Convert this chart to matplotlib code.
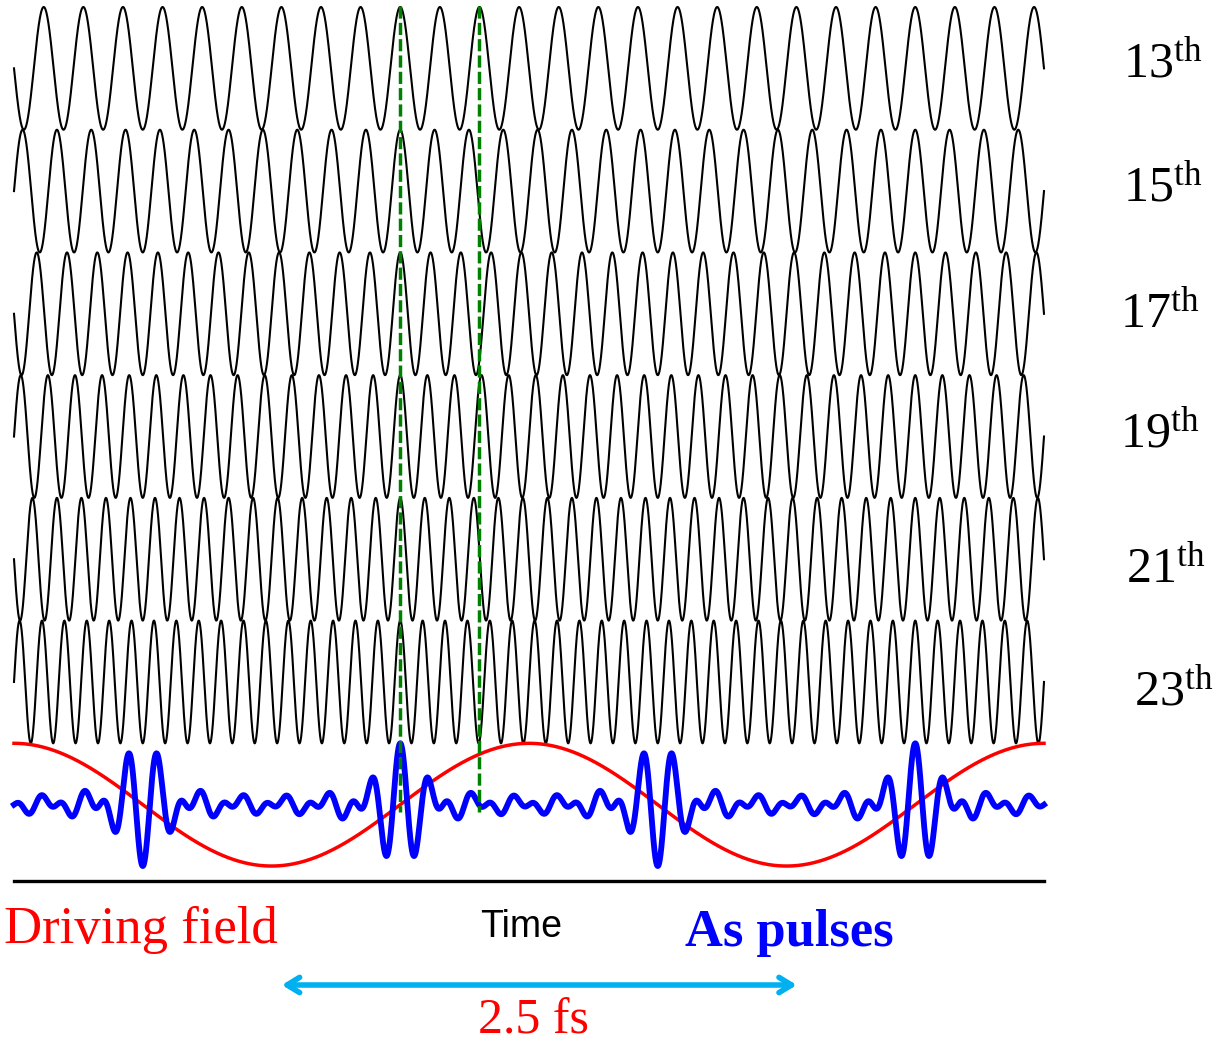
import numpy as np
import matplotlib
matplotlib.use('Agg')
import matplotlib.pyplot as plt

plt.rcParams['mathtext.fontset'] = 'custom'
plt.rcParams['mathtext.rm'] = 'Liberation Serif'

# ---- data ----
harmonic_orders = [13, 15, 17, 19, 21, 23]
harmonic_labels = ['13', '15', '17', '19', '21', '23']
driving_cycles = 2.0          # driving-field periods shown
pulse_time = 0.75             # time of in-phase harmonics (driving periods)
marker_times = [0.75, 0.75 + 2.0 / 13.0]
arrow_start = 0.52            # driving periods
arrow_span = 1.0              # one driving period
period_label = '2.5 fs'

# ---- figure / pixel helpers ----
W, H = 1221, 1043
fig = plt.figure(figsize=(W / 100, H / 100), dpi=100)
ax = fig.add_axes([0, 0, 1, 1])
x0px, x1px = 14, 1044
ppu_x = (x1px - x0px) / driving_cycles
top_px = 7
ppu_y = 61.36


def X(px):
    return (px - x0px) / ppu_x


def Y(py):
    return 1 - (py - top_px) / ppu_y


ax.set_xlim(X(0), X(W))
ax.set_ylim(Y(H), Y(0))
ax.axis('off')

t = np.linspace(0, driving_cycles, 8000)
for k, q in enumerate(harmonic_orders):
    ax.plot(t, -2 * k + np.cos(2 * np.pi * q * (t - pulse_time)),
            color='black', lw=1.5, zorder=2)

center = -2 * len(harmonic_orders)
ax.plot(t, center + np.cos(2 * np.pi * t), color='red', lw=2.5, zorder=3)
S = sum(np.cos(2 * np.pi * q * (t - pulse_time)) for q in harmonic_orders) / len(harmonic_orders)
ax.plot(t, center + S, color='blue', lw=4.2, zorder=4)

for tm in marker_times:
    ax.plot([tm, tm], [1.02, Y(812)], color='#008000', lw=2.5,
            dashes=(3.5, 1.2), zorder=5)

# baseline
ax.plot([0, driving_cycles], [Y(881), Y(881)], color='black', lw=2.4, zorder=3)

# harmonic labels
label_x = [1123, 1123, 1120, 1120, 1126, 1134]
label_base = [78, 202, 328, 448, 583, 706]
for lab, lx, ly in zip(harmonic_labels, label_x, label_base):
    ax.text(X(lx), Y(ly), r'$\mathrm{%s^{th}}$' % lab, fontsize=36,
            ha='left', va='baseline', color='black')

ax.text(X(4), Y(943), 'Driving field', fontsize=38, family='Liberation Serif',
        color='red', ha='left', va='baseline')
ax.text(X(521), Y(937), 'Time', fontsize=27, family='Liberation Sans',
        color='black', ha='center', va='baseline')
ax.text(X(685), Y(946), 'As pulses', fontsize=37.8, family='Liberation Serif',
        fontweight='bold', color='blue', ha='left', va='baseline')
ax.text(X(533), Y(1033), period_label, fontsize=36, family='Liberation Serif',
        color='red', ha='center', va='baseline')

ax.annotate('', xy=(arrow_start + arrow_span, Y(985)), xytext=(arrow_start, Y(985)),
            arrowprops=dict(arrowstyle='<->,head_length=0.9,head_width=0.55',
                            color='#00B0F0', lw=4, shrinkA=0, shrinkB=0))

fig.savefig('out.png', dpi=100)
